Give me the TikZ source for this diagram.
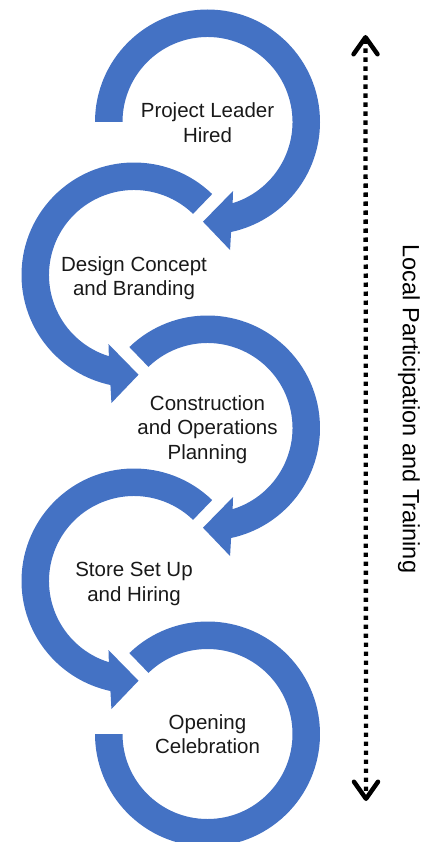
\documentclass[tikz,border=0pt]{standalone}
\usepackage{fontspec}
\setmainfont{Liberation Sans}
\usetikzlibrary{arrows.meta}
\definecolor{ringblue}{HTML}{4472C4}
% clockwise ring ending in an arrowhead at the bottom: #1 centre name, #2 start angle
\newcommand\cwring[2]{%
  \fill[band] ([shift={(#2:112.5)}]#1) arc[start angle=#2, end angle=-77.9, radius=112.5]
    -- ([shift={(-80:130)}]#1) -- ([shift={(-92.6:99.8)}]#1)
    -- ([shift={(-69.7:73.6)}]#1) -- ([shift={(-72.8:85)}]#1)
    arc[start angle=-72.8, end angle=#2, radius=85] -- cycle;}
% counter-clockwise ring ending in an arrowhead at the bottom
\newcommand\ccwring[2]{%
  \fill[band] ([shift={(#2:112.5)}]#1) arc[start angle=#2, end angle=257.9, radius=112.5]
    -- ([shift={(260:130)}]#1) -- ([shift={(272.6:99.8)}]#1)
    -- ([shift={(249.7:73.6)}]#1) -- ([shift={(252.8:85)}]#1)
    arc[start angle=252.8, end angle=#2, radius=85] -- cycle;}
\begin{document}
\begin{tikzpicture}[x=1pt,y=1pt,
  band/.style={fill=ringblue},
  lbl/.style={align=center, font=\fontsize{20.5}{24.5}\selectfont, text=black!90, inner sep=0pt},
  sidelbl/.style={rotate=-90, font=\fontsize{23.5}{28}\selectfont, text=black, inner sep=0pt},
  dotarrow/.style={line width=4.3pt, dash pattern=on 4.3pt off 4.7pt,
    {Straight Barb[length=17pt, width=24pt, line width=4.5pt, round]}-{Straight Barb[length=17pt, width=24pt, line width=4.5pt, round]}}]
\useasboundingbox (0,0) rectangle (437,-842);

\coordinate (c1) at (207.5,-122);
\coordinate (c2) at (134,-275);
\coordinate (c3) at (207.5,-428);
\coordinate (c4) at (134,-581);
\coordinate (c5) at (207.5,-734);

% rings
\cwring{c1}{180}
\ccwring{c2}{46}
\cwring{c3}{134}
\ccwring{c4}{46}
\fill[band] ([shift={(134:112.5)}]c5) arc[start angle=134, end angle=-180, radius=112.5]
  -- ([shift={(180:85)}]c5) arc[start angle=-180, end angle=134, radius=85] -- cycle;

% labels
\node[lbl] (t1) at (207.5,-122.5) {Project Leader\\Hired};
\node[lbl] (t2) at (134,-278) {Design Concept\\and Branding};
\node[lbl] (t3) at (207.5,-429.5) {Construction\\and Operations\\Planning};
\node[lbl] (t4) at (134,-584) {Store Set Up\\and Hiring};
\node[lbl] (t5) at (207.5,-734) {Opening\\Celebration};

% side arrow
\coordinate (atop) at (365.5,-35);
\coordinate (abot) at (366,-801);
\draw[dotarrow] (atop) -- (abot);
\node[sidelbl] (side) at (409,-409) {Local Participation and Training};
\end{tikzpicture}
\end{document}
